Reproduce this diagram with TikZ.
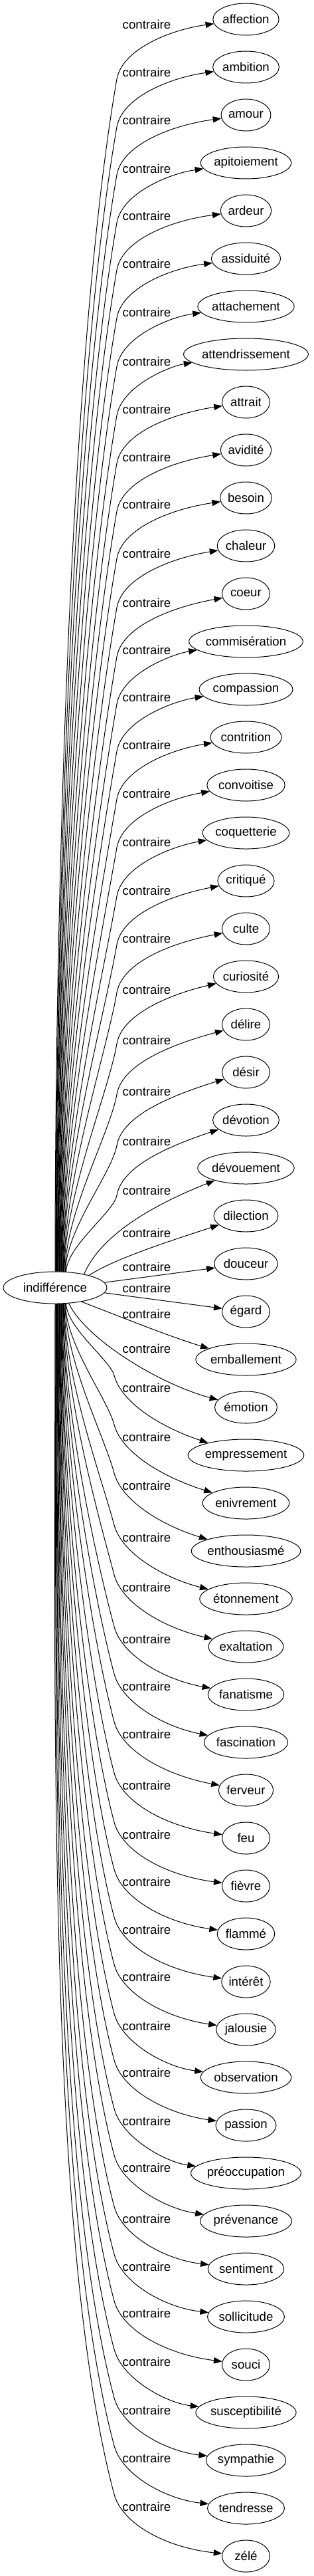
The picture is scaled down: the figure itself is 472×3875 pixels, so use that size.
\documentclass[tikz,border=0pt]{standalone}
\usepackage{fontspec}
\setmainfont{Liberation Sans}
\usetikzlibrary{arrows.meta,shapes.geometric}

\newlength{\largmot}

\tikzset{
  mot/.style={draw, ellipse, line width=0.75pt, inner xsep=0pt, inner ysep=2pt,
    minimum width=54pt, minimum height=36pt, font=\fontsize{14}{17}\selectfont},
  contr/.style={inner sep=0pt, anchor=base, font=\fontsize{14}{17}\selectfont},
  lien/.style={line width=0.75pt, -{Triangle[length=9.5pt,width=7pt]}}
}

\begin{document}
\begin{tikzpicture}[x=0.75pt, y=-0.75pt]
\useasboundingbox (0,0) rectangle (472,3875);

% Mot central
\node[mot, minimum width=117pt] (ind) at (83,1937) {indifférence};

% Contraires, etiquettes et liens
\foreach \nm/\txt/\ly [count=\i] in {
  affection/affection/39, ambition/ambition/111, amour/amour/183,
  apitoiement/apitoiement/255, ardeur/ardeur/326, assiduite/assiduité/398,
  attachement/attachement/471, attendrissement/attendrissement/545,
  attrait/attrait/617, avidite/avidité/689, besoin/besoin/760,
  chaleur/chaleur/834, coeur/coeur/908, commiseration/commisération/979,
  compassion/compassion/1050, contrition/contrition/1122,
  convoitise/convoitise/1195, coquetterie/coquetterie/1268,
  critique/critiqué/1341, culte/culte/1413, curiosite/curiosité/1490,
  delire/délire/1566, desir/désir/1643, devotion/dévotion/1718,
  devouement/dévouement/1792, dilection/dilection/1856,
  douceur/douceur/1907, egard/égard/1939, emballement/emballement/1978,
  emotion/émotion/2030, empressement/empressement/2089,
  enivrement/enivrement/2163, enthousiasme/enthousiasmé/2236,
  etonnement/étonnement/2314, exaltation/exaltation/2389,
  fanatisme/fanatisme/2467, fascination/fascination/2538,
  ferveur/ferveur/2610, feu/feu/2687, fievre/fièvre/2761,
  flamme/flammé/2832, interet/intérêt/2904, jalousie/jalousie/2975,
  observation/observation/3049, passion/passion/3119,
  preoccupation/préoccupation/3192, prevenance/prévenance/3262,
  sentiment/sentiment/3339, sollicitude/sollicitude/3411,
  souci/souci/3481, susceptibilite/susceptibilité/3554,
  sympathie/sympathie/3627, tendresse/tendresse/3699, zele/zélé/3772
}{
  \settowidth{\largmot}{\fontsize{14}{17}\selectfont\txt}
  \node[mot, minimum width={max(54,1.2*\largmot+25.5)}] (\nm) at (370.5,{29+72*(\i-1)}) {\txt};
  \node[contr] (c\i) at (221,\ly+5) {contraire};
  % liens vers le haut
  \ifnum\i<25
    \pgfmathsetmacro{\wy}{\ly+80}
    \pgfmathsetmacro{\dist}{1913-\wy}
    \pgfmathtruncatemacro{\ang}{90-1.5*(\i-1)}
    \coordinate (w\i) at (176,\wy);
    \draw[lien] (ind.\ang) .. controls +(0,{-0.33*\dist}) and +({-0.038*\dist},{0.217*\dist}) .. (w\i)
      .. controls +(7.8,-44.3) and (255,\ly+6) .. (\nm);
  \fi
  % liens vers le bas
  \ifnum\i>30
    \pgfmathsetmacro{\wy}{\ly-20}
    \pgfmathsetmacro{\dist}{\wy-1961}
    \pgfmathtruncatemacro{\ang}{-90+1.5*(54-\i)}
    \coordinate (w\i) at (172,\wy);
    \draw[lien] (ind.\ang) .. controls +(0,{0.33*\dist}) and +({-0.057*\dist},{-0.2125*\dist}) .. (w\i)
      .. controls +(11.7,43.5) and (248,\ly+60) .. (\nm);
  \fi
}

% Liens du milieu
\draw[lien] (ind.25) .. controls (155,1850) and (250,1805) .. (devouement);
\draw[lien] (ind.20) .. controls (175,1892) and (265,1864) .. (dilection);
\draw[lien] (ind.6) -- (douceur);
\draw[lien] (ind.-6) -- (egard);
\draw[lien] (ind.-28) .. controls (200,1988) and (260,2012) .. (emballement);
\draw[lien] (ind.-49) .. controls (130,2015) and (240,2082) .. (emotion);

\end{tikzpicture}
\end{document}
